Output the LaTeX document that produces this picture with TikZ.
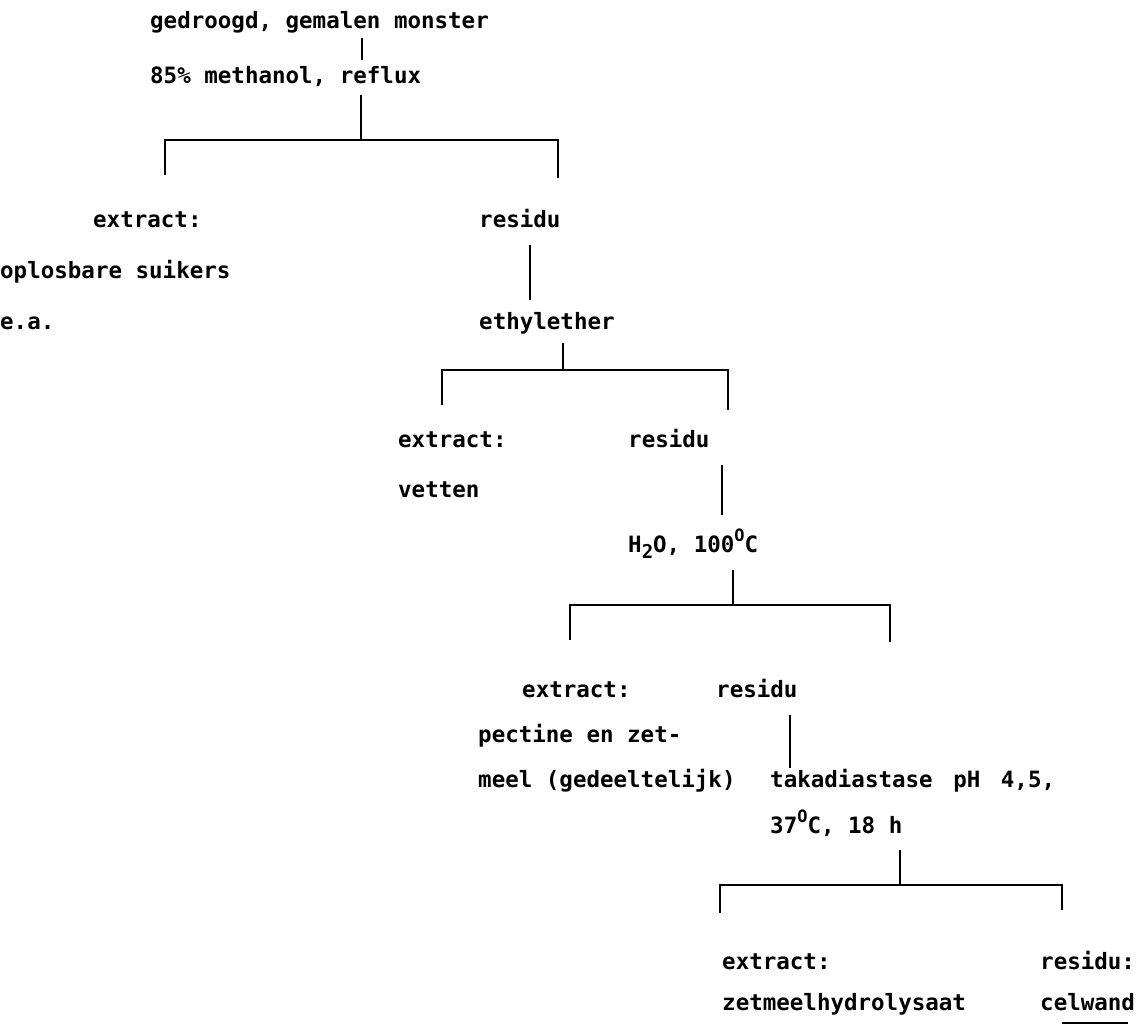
\documentclass[tikz,border=0pt]{standalone}
\usepackage{fontspec}
\newfontfamily\mono{DejaVu Sans Mono}
\newcommand{\sub}[1]{\raisebox{-0.55ex}{\fontsize{19}{19}\selectfont #1}}
\newcommand{\degO}{\raisebox{0.85ex}{\fontsize{17}{17}\selectfont O}}
\begin{document}
\begin{tikzpicture}[x=1pt,y=-1pt,
  txt/.style={anchor=base west, inner sep=0pt, font=\mono\bfseries\fontsize{22.5}{27}\selectfont},
  conn/.style={line width=2.5pt, line cap=butt},
  thin/.style={line width=1.3pt}]
\useasboundingbox (0,0) rectangle (1143,1027);
% level 1
\node[txt] (top1) at (150,29) {gedroogd, gemalen monster};
\node[txt] (top2) at (150,84) {85\% methanol, reflux};
\coordinate (t1a) at (362,38); \coordinate (t1b) at (362,60);
\draw[thin] (t1a) -- (t1b);
\coordinate (s1) at (361,95); \coordinate (j1) at (361,140);
\coordinate (b1l) at (165,140); \coordinate (b1r) at (558,140);
\coordinate (d1l) at (165,175); \coordinate (d1r) at (558,178);
\draw[conn] (s1) -- (j1);
\draw[conn] (d1l) -- (b1l) -- (b1r) -- (d1r);
% level 2
\node[txt] (ex1) at (93,228) {extract:};
\node[txt] (ex1b) at (0,278) {oplosbare suikers};
\node[txt] (ex1c) at (0,329) {e.a.};
\node[txt] (re1) at (479,228) {residu};
\coordinate (v1a) at (530,245); \coordinate (v1b) at (530,300);
\draw[conn] (v1a) -- (v1b);
\node[txt] (eth) at (479,329) {ethylether};
\coordinate (s2) at (563,343); \coordinate (j2) at (563,370);
\coordinate (b2l) at (442,370); \coordinate (b2r) at (728,370);
\coordinate (d2l) at (442,405); \coordinate (d2r) at (728,410);
\draw[conn] (s2) -- (j2);
\draw[conn] (d2l) -- (b2l) -- (b2r) -- (d2r);
% level 3
\node[txt] (ex2) at (398,447) {extract:};
\node[txt] (ex2b) at (398,497) {vetten};
\node[txt] (re2) at (628,447) {residu};
\coordinate (v2a) at (722,465); \coordinate (v2b) at (722,515);
\draw[conn] (v2a) -- (v2b);
\node[txt] (h2o) at (628,552) {H\sub{2}O, 100\degO C};
\coordinate (s3) at (733,570); \coordinate (j3) at (733,605);
\coordinate (b3l) at (570,605); \coordinate (b3r) at (890,605);
\coordinate (d3l) at (570,640); \coordinate (d3r) at (890,642);
\draw[conn] (s3) -- (j3);
\draw[conn] (d3l) -- (b3l) -- (b3r) -- (d3r);
% level 4
\node[txt] (ex3) at (522,697) {extract:};
\node[txt] (ex3b) at (478,742) {pectine en zet-};
\node[txt] (ex3c) at (478,787) {meel (gedeeltelijk)};
\node[txt] (re3) at (716,697) {residu};
\coordinate (v3a) at (790,715); \coordinate (v3b) at (790,768);
\draw[conn] (v3a) -- (v3b);
\node[txt] (tak) at (770,787) {takadiastase\hspace{7pt} pH\hspace{7pt} 4,5,};
\node[txt] (tak2) at (770,833) {37\degO C, 18 h};
\coordinate (s4) at (900,850); \coordinate (j4) at (900,885);
\coordinate (b4l) at (720,885); \coordinate (b4r) at (1062,885);
\coordinate (d4l) at (720,913); \coordinate (d4r) at (1062,910);
\draw[conn] (s4) -- (j4);
\draw[conn] (d4l) -- (b4l) -- (b4r) -- (d4r);
% level 5
\node[txt] (ex4) at (722,969) {extract:};
\node[txt] (ex4b) at (722,1010) {zetmeelhydrolysaat};
\node[txt] (re4) at (1040,969) {residu:};
\node[txt] (re4b) at (1040,1010) {celwand};
\coordinate (u1) at (1062,1023); \coordinate (u2) at (1128,1023);
\draw[thin] (u1) -- (u2);
\end{tikzpicture}
\end{document}
